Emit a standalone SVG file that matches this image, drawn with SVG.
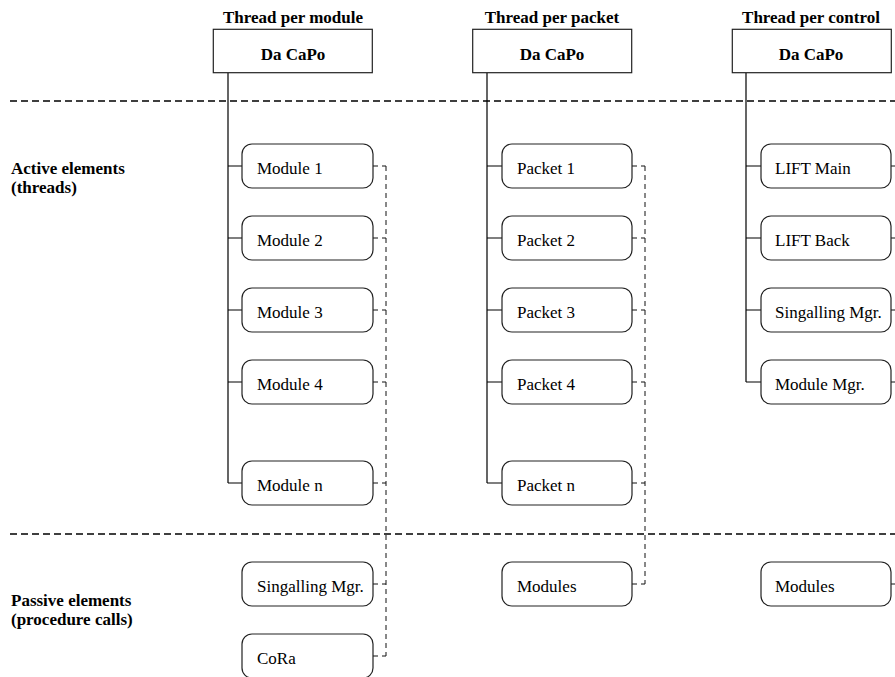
<svg xmlns="http://www.w3.org/2000/svg" width="895" height="677" viewBox="0 0 895 677">
  <style>
    text { font-family: "Liberation Serif", "Times New Roman", serif; font-size: 17px; fill: #000; }
    .b { font-weight: bold; }
    .mid { text-anchor: middle; }
    .top { fill: #fff; stroke: #222; stroke-width: 1.2; }
    .node { fill: #fff; stroke: #222; stroke-width: 1.2; }
    .tree { fill: none; stroke: #000; stroke-width: 1.2; }
    .sep { fill: none; stroke: #000; stroke-width: 1.3; stroke-dasharray: 7 4; }
    .call { fill: none; stroke: #111; stroke-width: 1; stroke-dasharray: 5 4; }
  </style>

  <!-- layer separators -->
  <g id="separators">
    <line class="sep" x1="10" y1="101" x2="895" y2="101"/>
    <line class="sep" x1="10" y1="534" x2="895" y2="534"/>
  </g>

  <!-- side labels -->
  <g id="labels">
    <text class="b" x="11" y="174">Active elements</text>
    <text class="b" x="11" y="193">(threads)</text>
    <text class="b" x="11" y="606">Passive elements</text>
    <text class="b" x="11" y="625">(procedure calls)</text>
  </g>

  <!-- connectors -->
  <g id="connectors">
    <!-- thread per module -->
    <path class="tree" d="M228,72.7 V483 M228,166 H242 M228,238 H242 M228,310 H242 M228,382 H242 M228,483 H242"/>
    <path class="call" d="M386,166 V656 M373,166 H386 M373,238 H386 M373,310 H386 M373,382 H386 M373,483 H386 M373,584 H386 M373,656 H386"/>
    <!-- thread per packet -->
    <path class="tree" d="M487,72.7 V483 M487,166 H502 M487,238 H502 M487,310 H502 M487,382 H502 M487,483 H502"/>
    <path class="call" d="M645,166 V584 M632,166 H645 M632,238 H645 M632,310 H645 M632,382 H645 M632,483 H645 M632,584 H645"/>
    <!-- thread per control -->
    <path class="tree" d="M746,72.7 V382 M746,166 H761 M746,238 H761 M746,310 H761 M746,382 H761"/>
    <path class="call" d="M891,166 H899 M891,238 H899 M891,310 H899 M891,382 H899 M891,584 H899"/>
  </g>

  <!-- column titles and roots -->
  <g id="root-module">
    <text class="b mid" x="293" y="23">Thread per module</text>
    <rect class="top" x="213.3" y="29.3" width="159" height="43.4"/>
    <text class="b mid" x="293" y="60">Da CaPo</text>
  </g>
  <g id="root-packet">
    <text class="b mid" x="552" y="23">Thread per packet</text>
    <rect class="top" x="472.7" y="29.3" width="159" height="43.4"/>
    <text class="b mid" x="552" y="60">Da CaPo</text>
  </g>
  <g id="root-control">
    <text class="b mid" x="811" y="23">Thread per control</text>
    <rect class="top" x="732.3" y="29.3" width="159" height="43.4"/>
    <text class="b mid" x="811" y="60">Da CaPo</text>
  </g>

  <!-- thread per module: nodes -->
  <g id="module-1"><rect class="node" x="242" y="144" width="131" height="44" rx="10"/><text x="257" y="174">Module 1</text></g>
  <g id="module-2"><rect class="node" x="242" y="216" width="131" height="44" rx="10"/><text x="257" y="246">Module 2</text></g>
  <g id="module-3"><rect class="node" x="242" y="288" width="131" height="44" rx="10"/><text x="257" y="318">Module 3</text></g>
  <g id="module-4"><rect class="node" x="242" y="360" width="131" height="44" rx="10"/><text x="257" y="390">Module 4</text></g>
  <g id="module-n"><rect class="node" x="242" y="461" width="131" height="44" rx="10"/><text x="257" y="491">Module n</text></g>
  <g id="module-sigmgr"><rect class="node" x="242" y="562" width="131" height="44" rx="10"/><text x="257" y="592">Singalling Mgr.</text></g>
  <g id="module-cora"><rect class="node" x="242" y="634" width="131" height="44" rx="10"/><text x="257" y="664">CoRa</text></g>

  <!-- thread per packet: nodes -->
  <g id="packet-1"><rect class="node" x="502" y="144" width="130" height="44" rx="10"/><text x="517" y="174">Packet 1</text></g>
  <g id="packet-2"><rect class="node" x="502" y="216" width="130" height="44" rx="10"/><text x="517" y="246">Packet 2</text></g>
  <g id="packet-3"><rect class="node" x="502" y="288" width="130" height="44" rx="10"/><text x="517" y="318">Packet 3</text></g>
  <g id="packet-4"><rect class="node" x="502" y="360" width="130" height="44" rx="10"/><text x="517" y="390">Packet 4</text></g>
  <g id="packet-n"><rect class="node" x="502" y="461" width="130" height="44" rx="10"/><text x="517" y="491">Packet n</text></g>
  <g id="packet-modules"><rect class="node" x="502" y="562" width="130" height="44" rx="10"/><text x="517" y="592">Modules</text></g>

  <!-- thread per control: nodes -->
  <g id="control-lift-main"><rect class="node" x="761" y="144" width="130" height="44" rx="10"/><text x="775" y="174">LIFT Main</text></g>
  <g id="control-lift-back"><rect class="node" x="761" y="216" width="130" height="44" rx="10"/><text x="775" y="246">LIFT Back</text></g>
  <g id="control-sigmgr"><rect class="node" x="761" y="288" width="130" height="44" rx="10"/><text x="775" y="318">Singalling Mgr.</text></g>
  <g id="control-modmgr"><rect class="node" x="761" y="360" width="130" height="44" rx="10"/><text x="775" y="390">Module Mgr.</text></g>
  <g id="control-modules"><rect class="node" x="761" y="562" width="130" height="44" rx="10"/><text x="775" y="592">Modules</text></g>
</svg>
